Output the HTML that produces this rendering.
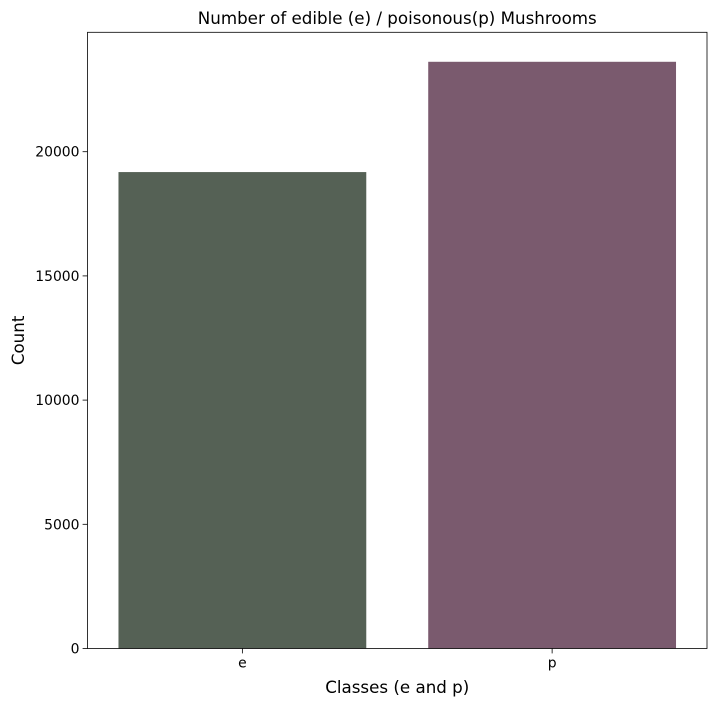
<!DOCTYPE html>
<html><head><meta charset="utf-8"><style>
body{margin:0;background:#fff;}
svg{display:block;font-family:"DejaVu Sans","Liberation Sans",sans-serif;}
</style></head><body>
<svg id="chart" width="717" height="705"></svg>
<script>
const categories = ["e", "p"];
const counts = [19180, 23620];
const tickValues = [0, 5000, 10000, 15000, 20000];
const barColors = ["#556155", "#7a5a6e"];

const svg = document.getElementById('chart');
const NS = 'http://www.w3.org/2000/svg';
const L = 87.5, R = 707, T = 32.3, B = 648.5;
const yMax = 24807;
const y = v => B - v / yMax * (B - T);
const band = (R - L) / categories.length;
const x = i => L + band * (i + 0.5);
function mk(tag, attrs, text) {
  const el = document.createElementNS(NS, tag);
  for (const k in attrs) el.setAttribute(k, attrs[k]);
  if (text !== undefined) el.textContent = text;
  svg.appendChild(el);
  return el;
}
categories.forEach((c, i) => {
  const w = band * 0.8;
  const r = mk('rect', {x: x(i) - w / 2, y: y(counts[i]), width: w, height: B - y(counts[i]), fill: barColors[i]});
  
  
  const t = mk('line', {x1: x(i), x2: x(i), y1: B, y2: B + 4.9, stroke: '#000', 'stroke-width': 0.8});
  
  
  const lb = mk('text', {x: x(i), y: B + 19, 'text-anchor': 'middle', 'font-size': 13.9}, c);
  
  
});
tickValues.forEach(v => {
  const t = mk('line', {x1: L - 4.9, x2: L, y1: y(v), y2: y(v), stroke: '#000', 'stroke-width': 0.8});
  
  
  const lb = mk('text', {x: L - 8, y: y(v) + 5, 'text-anchor': 'end', 'font-size': 13.9}, String(v));
  
  
});
const frame = mk('rect', {x: L, y: T, width: R - L, height: B - T, fill: 'none', stroke: '#000', 'stroke-width': 0.8});


const title = mk('text', {x: (L + R) / 2, y: 24, 'text-anchor': 'middle', 'font-size': 16.7}, 'Number of edible (e) / poisonous(p) Mushrooms');


const xt = mk('text', {x: (L + R) / 2, y: 693, 'text-anchor': 'middle', 'font-size': 16.7}, 'Classes (e and p)');


const yt = mk('text', {x: 24, y: (T + B) / 2, 'text-anchor': 'middle', 'font-size': 16.7, transform: 'rotate(-90 24 ' + (T + B) / 2 + ')'}, 'Count');


</script>
</body></html>
